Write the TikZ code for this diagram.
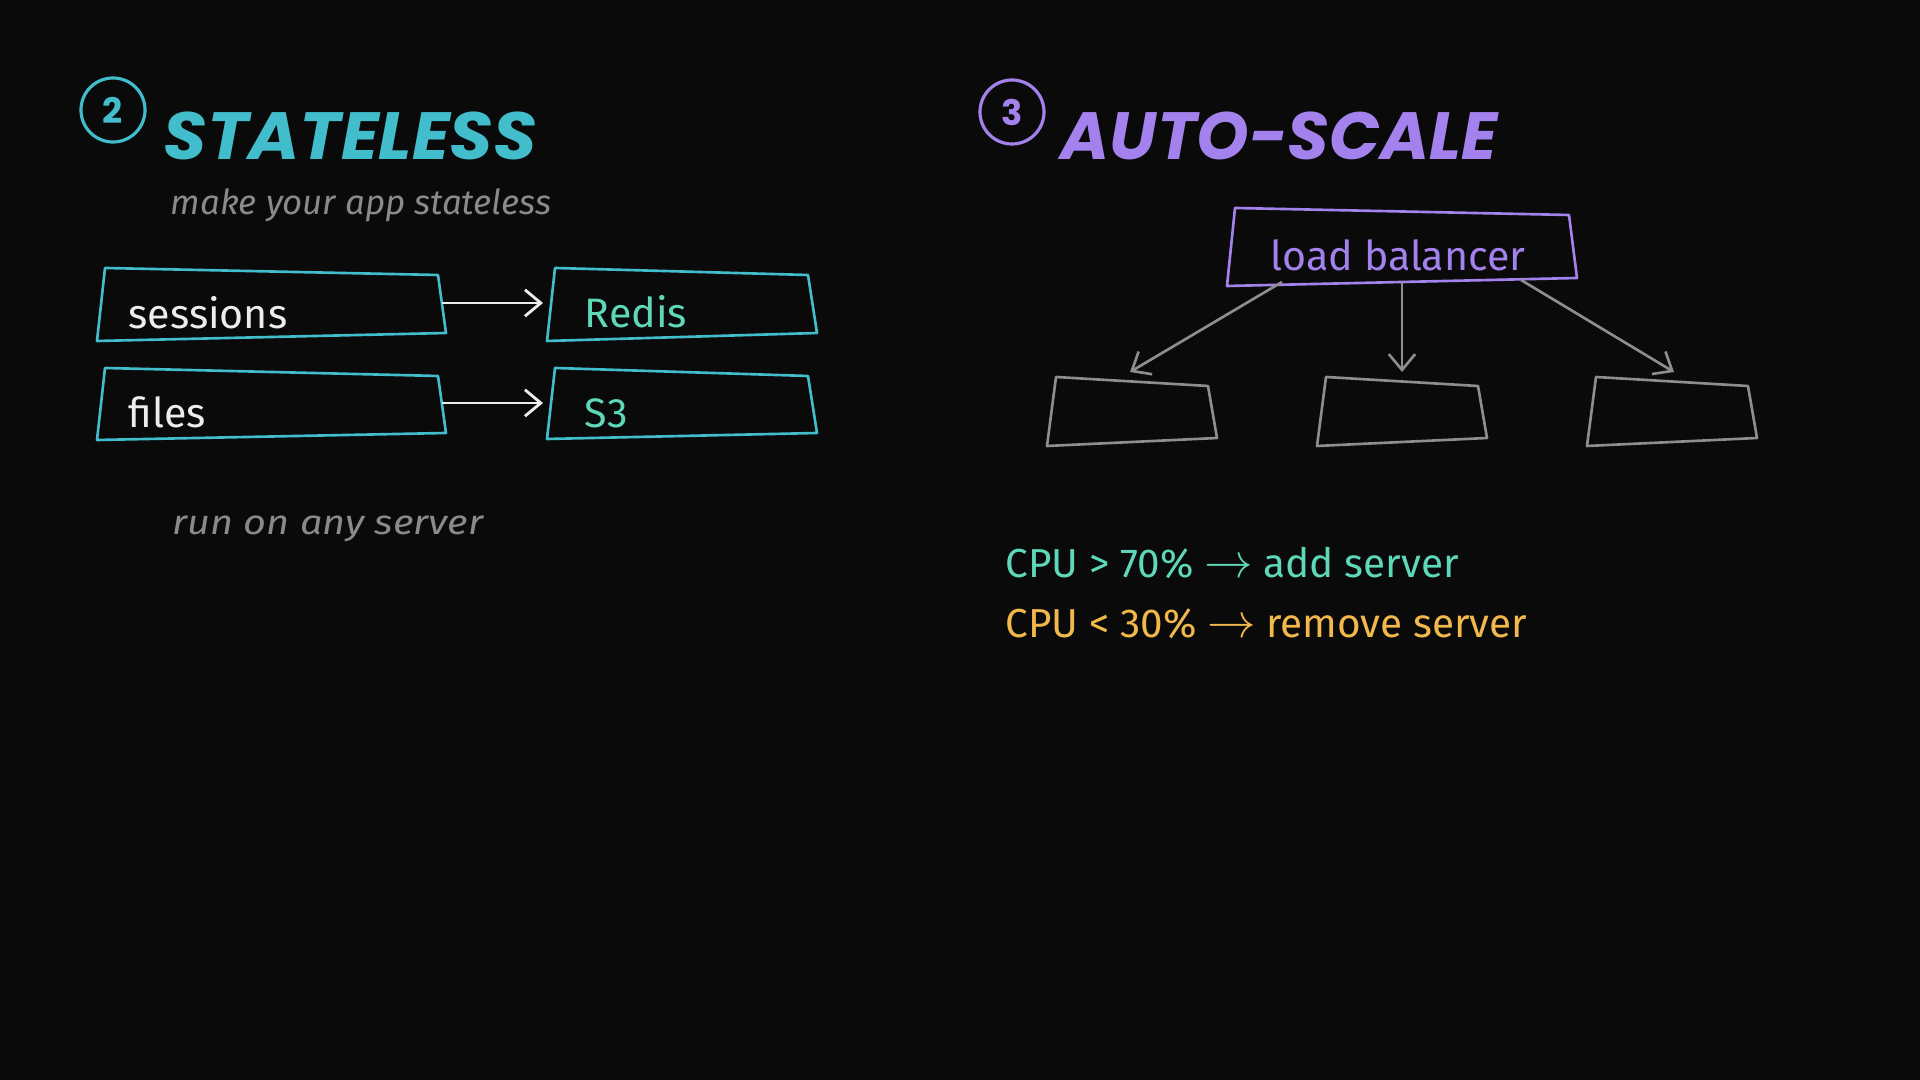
\documentclass[tikz,border=0pt]{standalone}
\usepackage{fontspec}
\setmainfont{Fira Sans}
\newfontfamily\titlefont{Poppins}
\usetikzlibrary{arrows.meta}
\definecolor{bgc}{HTML}{0A0A0A}
\definecolor{tealc}{HTML}{42BDCC}
\definecolor{mintc}{HTML}{5ED8B8}
\definecolor{purpc}{HTML}{A482EE}
\definecolor{grayc}{HTML}{8E8E8E}
\definecolor{handc}{HTML}{8A8A8A}
\definecolor{orangec}{HTML}{F2B84B}
\definecolor{whitec}{HTML}{EDEDED}
\newcommand{\longarr}{\scalebox{1.15}{$\rightarrow$}}
\tikzset{
  numcirc/.style={circle, line width=0.9pt, minimum size=0.64cm, inner sep=0pt,
    font=\titlefont\bfseries\fontsize{10}{12}\selectfont},
  titletext/.style={anchor=base west, inner sep=0pt,
    font=\titlefont\bfseries\itshape\fontsize{19}{22}\selectfont},
  handtext/.style={anchor=base west, inner sep=0pt, text=handc,
    font=\itshape\fontsize{9.8}{11}\selectfont},
  boxlabel/.style={anchor=base west, inner sep=0pt, font=\fontsize{11.7}{14}\selectfont},
  cputext/.style={anchor=base west, inner sep=0pt, font=\fontsize{11.5}{13}\selectfont},
  tealbox/.style={draw=tealc, line width=0.75pt, line join=round},
  lbbox/.style={draw=purpc, line width=0.75pt, line join=round},
  srvbox/.style={draw=grayc, line width=0.75pt, line join=round},
  whitearrow/.style={draw=whitec, line width=0.8pt, -{Straight Barb[length=4.5pt,width=7.5pt]}},
  grayarrow/.style={draw=grayc, line width=0.75pt, -{Straight Barb[length=4.5pt,width=7.5pt]}},
}
\begin{document}
\begin{tikzpicture}[x=0.01cm,y=-0.01cm]
\fill[bgc] (0,0) rectangle (1920,1080);
\useasboundingbox (0,0) rectangle (1920,1080);

% ---------- Section 2: stateless ----------
\node[numcirc, draw=tealc, text=tealc] (num2) at (113,110) {2};
\node[titletext, text=tealc] (title2) at (163,160) {\scalebox{1.045}[1]{STATELESS}};
\node[handtext] (sub2) at (170,215) {\scalebox{1.01}[1]{make your app stateless}};

\draw[tealbox] (105,268) -- (438,275) -- (446,333) -- (97,341) -- cycle;
\draw[tealbox] (555,268) -- (808,275) -- (817,333) -- (547,341) -- cycle;
\draw[tealbox] (105,368) -- (438,376) -- (446,433) -- (97,440) -- cycle;
\draw[tealbox] (555,368) -- (808,376) -- (817,433) -- (547,439) -- cycle;

\node[boxlabel, text=whitec] (sessions) at (128,329) {sessions};
\node[boxlabel, text=mintc] (redis) at (584,328) {Redis};
\node[boxlabel, text=whitec] (files) at (128,428) {files};
\node[boxlabel, text=mintc] (s3) at (584,428) {S3};

\coordinate (sessE) at (442,303);
\coordinate (redisW) at (543,303);
\coordinate (filesE) at (442,403);
\coordinate (s3W) at (543,403);
\draw[whitearrow] (sessE) -- (redisW);
\draw[whitearrow] (filesE) -- (s3W);

\node[handtext] (run) at (172,535) {\scalebox{1.15}[1]{run on any server}};

% ---------- Section 3: auto-scale ----------
\node[numcirc, draw=purpc, text=purpc] (num3) at (1012,112) {3};
\node[titletext, text=purpc] (title3) at (1060,160) {AUTO-SCALE};

\draw[lbbox] (1235,208) -- (1569,215) -- (1577,278) -- (1227,286) -- cycle;
\node[boxlabel, text=purpc] (lb) at (1270,271) {load balancer};

\draw[srvbox] (1056,377) -- (1208,386) -- (1217,438) -- (1047,446) -- cycle;
\draw[srvbox] (1326,377) -- (1478,386) -- (1487,438) -- (1317,446) -- cycle;
\draw[srvbox] (1596,377) -- (1748,386) -- (1757,438) -- (1587,446) -- cycle;

\coordinate (lbA) at (1282,282);
\coordinate (lbB) at (1402,281);
\coordinate (lbC) at (1521,280);
\coordinate (srv1) at (1130,372);
\coordinate (srv2) at (1402,372);
\coordinate (srv3) at (1674,372);
\draw[grayarrow] (lbA) -- (srv1);
\draw[grayarrow] (lbB) -- (srv2);
\draw[grayarrow] (lbC) -- (srv3);

\node[cputext, text=mintc] (cpuhi) at (1005,578) {CPU > 70\% \longarr{} add server};
\node[cputext, text=orangec] (cpulo) at (1005,638) {CPU < 30\% \longarr{} remove server};
\end{tikzpicture}
\end{document}
